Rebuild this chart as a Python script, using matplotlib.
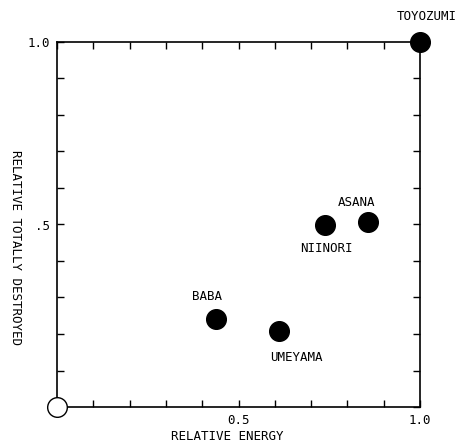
import matplotlib
matplotlib.use("Agg")
import matplotlib.pyplot as plt
from matplotlib.ticker import FixedLocator, MultipleLocator

# Data
cities = ["TOYOZUMI", "ASANA", "NIINORI", "BABA", "UMEYAMA"]
rel_energy = [1.0, 0.857, 0.738, 0.438, 0.612]
rel_destroyed = [1.0, 0.507, 0.499, 0.241, 0.208]

# label offsets (pixels) relative to each point
label_offsets = {
    "TOYOZUMI": (7, 25),
    "ASANA": (-12, 19),
    "NIINORI": (1, -24),
    "BABA": (-9, 23),
    "UMEYAMA": (17, -26),
}

plt.rcParams["font.family"] = ["DejaVu Sans Mono"]
fs = 9

fig = plt.figure(figsize=(4.61, 4.44), dpi=100)
ax = fig.add_axes([57 / 461, 37 / 444, 363 / 461, 365 / 444])

ax.scatter(rel_energy, rel_destroyed, s=200, color="black", zorder=3, clip_on=False)
ax.scatter([0], [0], s=200, facecolor="white", edgecolor="black",
           linewidth=1.0, zorder=4, clip_on=False)

for name, x, y in zip(cities, rel_energy, rel_destroyed):
    dx, dy = label_offsets[name]
    ax.annotate(name, (x, y), xytext=(dx, dy), textcoords="offset pixels",
                ha="center", va="center", fontsize=fs)

ax.set_xlim(0, 1.0)
ax.set_ylim(0, 1.0)
ax.xaxis.set_major_locator(FixedLocator([0.5, 1.0]))
ax.yaxis.set_major_locator(FixedLocator([0.5, 1.0]))
ax.xaxis.set_minor_locator(MultipleLocator(0.1))
ax.yaxis.set_minor_locator(MultipleLocator(0.1))
ax.set_xticklabels(["0.5", "1.0"])
ax.set_yticklabels([".5", "1.0"])

ax.tick_params(which="both", direction="in", top=True, right=True,
               length=5, width=1.0, labelsize=fs, pad=5)

for sp in ax.spines.values():
    sp.set_linewidth(1.2)

ax.set_xlabel("RELATIVE ENERGY", fontsize=fs)
ax.xaxis.set_label_coords(0.468, -0.062)
ax.set_ylabel("RELATIVE TOTALLY DESTROYED", fontsize=fs, rotation=270,
              va="center")
ax.yaxis.set_label_coords(-0.115, 0.438)

fig.savefig("out.png", dpi=100)
